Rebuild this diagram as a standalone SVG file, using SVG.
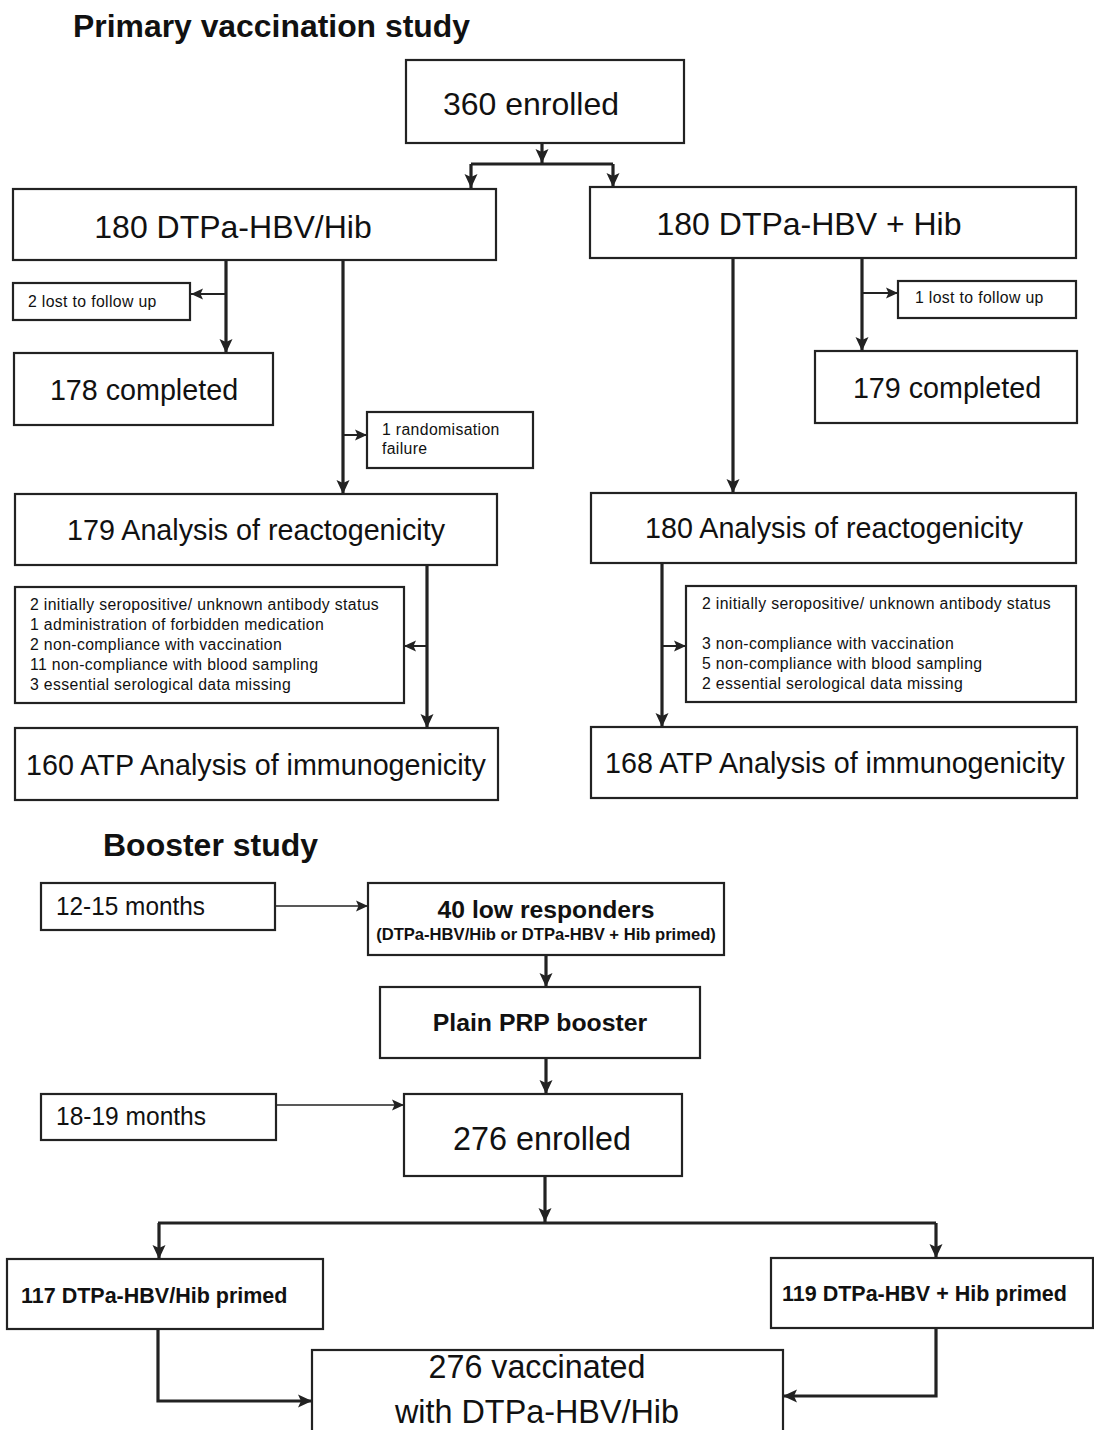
<svg xmlns="http://www.w3.org/2000/svg" width="1094" height="1430" viewBox="0 0 1094 1430">
<defs>
<style>
.box{fill:#fff;stroke:#222;stroke-width:2.2}
.t{font-family:"Liberation Sans",Arial,sans-serif;fill:#111}
.b{font-weight:bold}
.big{font-size:32px}
.mid{font-size:28.7px}
.sm{font-size:15.8px;letter-spacing:0.35px}
.c{text-anchor:middle}
.thick{fill:none;stroke:#222;stroke-width:3.2}
.thin{fill:none;stroke:#222;stroke-width:2}
.hair{fill:none;stroke:#222;stroke-width:1.6}
</style>
<marker id="ah" markerUnits="userSpaceOnUse" markerWidth="16" markerHeight="14" refX="14" refY="7" orient="auto">
<path d="M0,0.5 L14,7 L0,13.5 L3,7 z" fill="#222"/>
</marker>
<marker id="ahs" markerUnits="userSpaceOnUse" markerWidth="13" markerHeight="12" refX="12" refY="6" orient="auto">
<path d="M0,0.5 L12,6 L0,11.5 L2.5,6 z" fill="#222"/>
</marker>
</defs>
<rect width="1094" height="1430" fill="#fff"/>

<text class="t b" x="73" y="37" font-size="32" textLength="397" lengthAdjust="spacingAndGlyphs">Primary vaccination study</text>

<g id="connectors">
<path class="thick" d="M542,144 V163" marker-end="url(#ah)"/>
<path class="thick" d="M471,164 H613"/>
<path class="thick" d="M471,164 V188" marker-end="url(#ah)"/>
<path class="thick" d="M613,164 V187" marker-end="url(#ah)"/>
<path class="thick" d="M226,261 V353" marker-end="url(#ah)"/>
<path class="thin" d="M226,294 H191" marker-end="url(#ahs)"/>
<path class="thick" d="M343,261 V494" marker-end="url(#ah)"/>
<path class="thin" d="M343,435 H367" marker-end="url(#ahs)"/>
<path class="thick" d="M427,565 V728" marker-end="url(#ah)"/>
<path class="thin" d="M427,646 H404" marker-end="url(#ahs)"/>
<path class="thick" d="M862,258 V351" marker-end="url(#ah)"/>
<path class="thin" d="M862,293 H898" marker-end="url(#ahs)"/>
<path class="thick" d="M733,258 V493" marker-end="url(#ah)"/>
<path class="thick" d="M662,563 V727" marker-end="url(#ah)"/>
<path class="thin" d="M662,646 H686" marker-end="url(#ahs)"/>
<path class="hair" d="M275,906 H368" marker-end="url(#ahs)"/>
<path class="thick" d="M546,955 V987" marker-end="url(#ah)"/>
<path class="thick" d="M546,1058 V1094" marker-end="url(#ah)"/>
<path class="hair" d="M276,1105 H404" marker-end="url(#ahs)"/>
<path class="thick" d="M545,1176 V1222" marker-end="url(#ah)"/>
<path class="thick" d="M158,1223 H936"/>
<path class="thick" d="M159,1223 V1259" marker-end="url(#ah)"/>
<path class="thick" d="M936,1223 V1258" marker-end="url(#ah)"/>
<path class="thick" d="M158,1329 V1401 H312" marker-end="url(#ah)"/>
<path class="thick" d="M936,1328 V1396 H783" marker-end="url(#ah)"/>
</g>

<g id="n360">
<rect class="box" x="406" y="60" width="278" height="83"/>
<text class="t big c" x="531" y="115">360 enrolled</text>
</g>
<g id="nLeftArm">
<rect class="box" x="13" y="189" width="483" height="71"/>
<text class="t big c" x="233" y="238">180 DTPa-HBV/Hib</text>
</g>
<g id="nRightArm">
<rect class="box" x="590" y="187" width="486" height="71"/>
<text class="t big c" x="809" y="235">180 DTPa-HBV + Hib</text>
</g>
<g id="nLost2">
<rect class="box" x="13" y="283" width="177" height="37"/>
<text class="t sm" x="28" y="307">2 lost to follow up</text>
</g>
<g id="n178">
<rect class="box" x="14" y="353" width="259" height="72"/>
<text class="t mid c" x="144" y="400">178 completed</text>
</g>
<g id="nRand">
<rect class="box" x="367" y="412" width="166" height="56"/>
<text class="t sm" x="382" y="435">1 randomisation</text>
<text class="t sm" x="382" y="454">failure</text>
</g>
<g id="nLost1">
<rect class="box" x="898" y="281" width="178" height="37"/>
<text class="t sm" x="915" y="303">1 lost to follow up</text>
</g>
<g id="n179c">
<rect class="box" x="815" y="351" width="262" height="72"/>
<text class="t mid c" x="947" y="398">179 completed</text>
</g>
<g id="n179a">
<rect class="box" x="15" y="494" width="482" height="71"/>
<text class="t mid c" x="256" y="540">179 Analysis of reactogenicity</text>
</g>
<g id="n180a">
<rect class="box" x="591" y="493" width="485" height="70"/>
<text class="t mid c" x="834" y="538">180 Analysis of reactogenicity</text>
</g>
<g id="nExclL">
<rect class="box" x="15" y="587" width="389" height="116"/>
<text class="t sm" x="30" y="610">2 initially seropositive/ unknown antibody status</text>
<text class="t sm" x="30" y="630">1 administration of forbidden medication</text>
<text class="t sm" x="30" y="650">2 non-compliance with vaccination</text>
<text class="t sm" x="30" y="670">11 non-compliance with blood sampling</text>
<text class="t sm" x="30" y="690">3 essential serological data missing</text>
</g>
<g id="nExclR">
<rect class="box" x="686" y="586" width="390" height="116"/>
<text class="t sm" x="702" y="609">2 initially seropositive/ unknown antibody status</text>
<text class="t sm" x="702" y="649">3 non-compliance with vaccination</text>
<text class="t sm" x="702" y="669">5 non-compliance with blood sampling</text>
<text class="t sm" x="702" y="689">2 essential serological data missing</text>
</g>
<g id="n160">
<rect class="box" x="15" y="728" width="483" height="72"/>
<text class="t mid c" x="256" y="775">160 ATP Analysis of immunogenicity</text>
</g>
<g id="n168">
<rect class="box" x="591" y="727" width="486" height="71"/>
<text class="t mid c" x="835" y="773">168 ATP Analysis of immunogenicity</text>
</g>

<text class="t b" x="103" y="856" font-size="32" textLength="215" lengthAdjust="spacingAndGlyphs">Booster study</text>

<g id="n1215">
<rect class="box" x="41" y="883" width="234" height="47"/>
<text class="t" x="56" y="915" font-size="25" textLength="149" lengthAdjust="spacingAndGlyphs">12-15 months</text>
</g>
<g id="nLow">
<rect class="box" x="368" y="883" width="356" height="72"/>
<text class="t b c" x="546" y="918" font-size="24.7">40 low responders</text>
<text class="t b c" x="546" y="940" font-size="16.6">(DTPa-HBV/Hib or DTPa-HBV + Hib primed)</text>
</g>
<g id="nPRP">
<rect class="box" x="380" y="987" width="320" height="71"/>
<text class="t b c" x="540" y="1031" font-size="24.8">Plain PRP booster</text>
</g>
<g id="n1819">
<rect class="box" x="41" y="1094" width="235" height="46"/>
<text class="t" x="56" y="1125" font-size="25" textLength="150" lengthAdjust="spacingAndGlyphs">18-19 months</text>
</g>
<g id="n276e">
<rect class="box" x="404" y="1094" width="278" height="82"/>
<text class="t c" x="542" y="1150" font-size="33" textLength="178" lengthAdjust="spacingAndGlyphs">276 enrolled</text>
</g>
<g id="n117">
<rect class="box" x="7" y="1259" width="316" height="70"/>
<text class="t b" x="21" y="1303" font-size="21.5">117 DTPa-HBV/Hib primed</text>
</g>
<g id="n119">
<rect class="box" x="771" y="1258" width="322" height="70"/>
<text class="t b" x="782" y="1301" font-size="21.5">119 DTPa-HBV + Hib primed</text>
</g>
<g id="n276v">
<rect class="box" x="312" y="1350" width="471" height="100"/>
<text class="t c" x="537" y="1378" font-size="33" textLength="217" lengthAdjust="spacingAndGlyphs">276 vaccinated</text>
<text class="t c" x="537" y="1423" font-size="33" textLength="284" lengthAdjust="spacingAndGlyphs">with DTPa-HBV/Hib</text>
</g>
</svg>
